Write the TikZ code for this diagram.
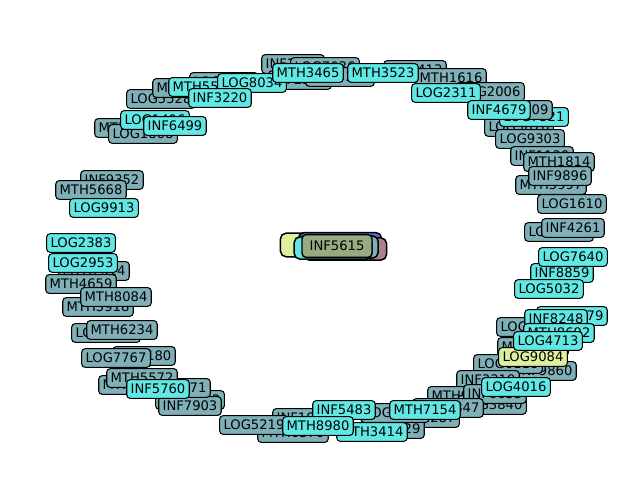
\documentclass[tikz,border=0pt]{standalone}
\usepackage{fontspec}
\setmainfont{DejaVu Sans}
\definecolor{grayc}{RGB}{127,176,184}
\definecolor{cyanc}{RGB}{98,232,228}
\definecolor{yelc}{RGB}{221,240,160}
\definecolor{olvc}{RGB}{152,170,128}
\definecolor{bluc}{RGB}{90,110,215}
\definecolor{pinkc}{RGB}{170,130,140}
\tikzset{
  lab/.style={draw=black, line width=0.75pt, rounded corners=2.5pt, inner xsep=2.8pt, inner ysep=3pt,
              text height=7.1pt, text depth=0.4pt, font=\fontsize{9.5}{10}\selectfont},
  gn/.style={lab, fill=grayc},
  cn/.style={lab, fill=cyanc},
  yn/.style={lab, fill=yelc},
  hub/.style={draw=black, line width=1.1pt, rounded corners=4pt},
}
\begin{document}
\begin{tikzpicture}[x=0.01in, y=-0.01in]
\useasboundingbox[fill=white] (0,0) rectangle (640,480);
% ---- gray nodes (under) ----
\node[gn] (g1) at (293,64) {INF1782};
\node[gn] (g2) at (325,67) {LOG7036};
\node[gn] (g3) at (300,80) {INF2260};
\node[gn] (g4) at (340,77) {LOG3307};
\node[gn] (g5) at (415,70) {INF2413};
\node[gn] (g6) at (451,78) {MTH1616};
\node[gn] (g7) at (490,92) {LOG2006};
\node[gn] (g9) at (519,127) {LOG5876};
\node[cn] (c10) at (534,117) {LOG7321};
\node[gn] (g8) at (521,110) {INF4409};
\node[gn] (g10) at (530,139) {LOG9303};
\node[gn] (g11) at (542,156) {INF1139};
\node[gn] (g12) at (551,185) {MTH5997};
\node[gn] (g13) at (559,162) {MTH1814};
\node[gn] (g14) at (560,176) {INF9896};
\node[gn] (g15) at (572,204) {LOG1610};
\node[gn] (g16) at (559,232) {LOG2745};
\node[gn] (g17) at (573,228) {INF4261};
\node[gn] (g18) at (531,327) {LOG8870};
\node[gn] (g19) at (533,347) {MTH2241};
\node[gn] (g21) at (545,371) {INF9860};
\node[gn] (g20) at (508,364) {LOG6118};
\node[gn] (g22) at (488,380) {INF3319};
\node[gn] (g23) at (463,396) {MTH9021};
\node[gn] (g25) at (492,405) {LOG3840};
\node[gn] (g24) at (495,394) {INF6655};
\node[gn] (g26) at (448,408) {MTH6847};
\node[gn] (g27) at (425,418) {LOG2287};
\node[gn] (g28) at (393,429) {INF7729};
\node[gn] (g29) at (395,413) {LOG8015};
\node[gn] (g30) at (304,418) {INF1044};
\node[gn] (g31) at (293,433) {MTH6570};
\node[gn] (g32) at (254,425) {LOG5219};
\node[gn] (g33) at (190,400) {LOG3392};
\node[gn] (g34) at (190,406) {INF7903};
\node[gn] (g35) at (179,388) {INF9071};
\node[gn] (g36) at (134,385) {MTH1153};
\node[gn] (g37) at (142,378) {MTH5572};
\node[gn] (g38) at (144,356) {INF1180};
\node[gn] (g39) at (116,358) {LOG7767};
\node[gn] (g40) at (106,333) {LOG4407};
\node[gn] (g41) at (122,330) {MTH6234};
\node[gn] (g42) at (94,271) {MTH7614};
\node[gn] (g43) at (81,284) {MTH4659};
\node[gn] (g44) at (98,307) {MTH5918};
\node[gn] (g45) at (116,297) {MTH8084};
\node[gn] (g46) at (112,180) {INF9352};
\node[gn] (g47) at (91,190) {MTH5668};
\node[gn] (g48) at (130,128) {MTH1205};
\node[gn] (g49) at (143,134) {LOG1868};
\node[gn] (g50) at (161,99) {LOG5528};
\node[gn] (g51) at (188,88) {MTH2290};
\node[gn] (g52) at (224,82) {LOG8840};
% ---- yellow ----
\node[yn] (y1) at (533,357) {LOG9084};
% ---- cyan nodes ----
\node[cn] (c1) at (155,120) {LOG1496};
\node[cn] (c2) at (175,126) {INF6499};
\node[cn] (c3) at (204,87) {MTH5531};
\node[cn] (c4) at (252,83) {LOG8034};
\node[cn] (c5) at (220,98) {INF3220};
\node[cn] (c6) at (308,73) {MTH3465};
\node[cn] (c7) at (383,73) {MTH3523};
\node[cn] (c8) at (446,93) {LOG2311};
\node[cn] (c9) at (499,110) {INF4679};
\node[cn] (c11) at (562,273) {INF8859};
\node[cn] (c12) at (573,257) {LOG7640};
\node[cn] (c13) at (549,289) {LOG5032};
\node[cn] (c14) at (572,316) {MTH5079};
\node[cn] (c15) at (556,319) {INF8248};
\node[cn] (c16) at (559,333) {MTH8692};
\node[cn] (c17) at (548,341) {LOG4713};
\node[cn] (c18) at (516,387) {LOG4016};
\node[cn] (c19) at (425,410) {MTH7154};
\node[cn] (c20) at (344,410) {INF5483};
\node[cn] (c21) at (372,432) {MTH3414};
\node[cn] (c22) at (318,426) {MTH8980};
\node[cn] (c23) at (158,389) {INF5760};
\node[cn] (c24) at (104,208) {LOG9913};
\node[cn] (c25) at (81,243) {LOG2383};
\node[cn] (c26) at (83,263) {LOG2953};
% ---- centre cluster ----
\node[hub, fill=yelc, minimum width=60pt, minimum height=17pt] (h1) at (322,245) {};
\node[hub, fill=bluc, minimum width=60pt, minimum height=15pt] (h2) at (340,243) {};
\node[hub, fill=pinkc, minimum width=60pt, minimum height=16pt] (h3) at (345,249) {};
\node[hub, fill=grayc, minimum width=58pt, minimum height=16pt] (h4) at (338,247) {};
\node[hub, fill=cyanc, minimum width=56pt, minimum height=16pt] (h5) at (333,248) {};
\node[lab, fill=olvc, line width=1pt, inner xsep=5.5pt, inner ysep=4.5pt, rounded corners=3pt] (hub) at (337,246) {INF5615};
\end{tikzpicture}
\end{document}
